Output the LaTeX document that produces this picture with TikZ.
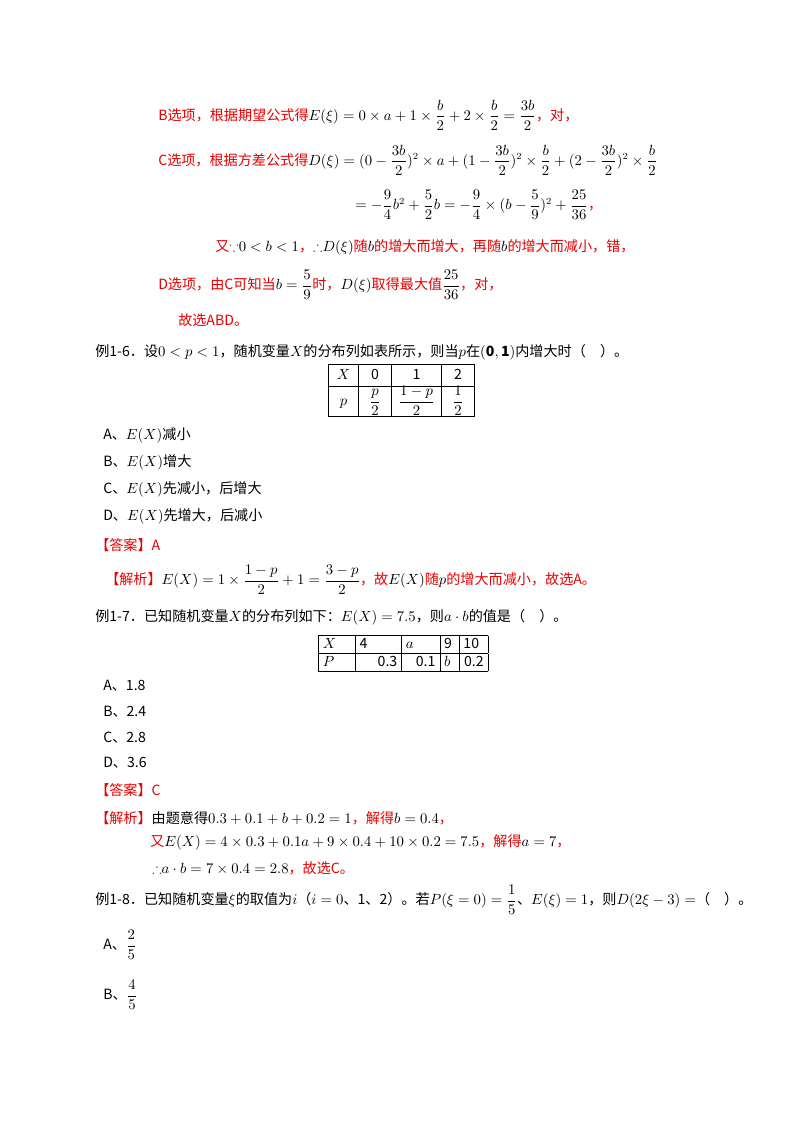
\documentclass[tikz,border=0pt]{standalone}
\usepackage{amsmath,amssymb,array}
\usepackage{fontspec}
\setmainfont{Noto Sans CJK SC}
\definecolor{rd}{RGB}{230,0,0}
\setlength\tabcolsep{3pt}
\begin{document}
\begin{tikzpicture}[x=0.744pt,y=-0.744pt,
  every node/.style={font=\fontsize{10.5}{13}\selectfont,anchor=west,inner sep=0pt},
  red/.style={text=rd}]
\useasboundingbox[fill=white] (0,0) rectangle (800,1132);
\node[red] (b) at (158,115) {B选项，根据期望公式得\textcolor{black}{$E(\xi)=0\times a+1\times\dfrac{b}{2}+2\times\dfrac{b}{2}=\dfrac{3b}{2}$}，对，};
\node[red] (c) at (158,160) {C选项，根据方差公式得\textcolor{black}{$D(\xi)=(0-\dfrac{3b}{2})^2\times a+(1-\dfrac{3b}{2})^2\times\dfrac{b}{2}+(2-\dfrac{3b}{2})^2\times\dfrac{b}{2}$}};
\node (c2) at (355,205) {$=-\dfrac{9}{4}b^2+\dfrac{5}{2}b=-\dfrac{9}{4}\times(b-\dfrac{5}{9})^2+\dfrac{25}{36}$\textcolor{rd}{，}};
\node[red] (y) at (215,247) {又$\because$\textcolor{black}{$0<b<1$}，$\therefore$\textcolor{black}{$D(\xi)$}随\textcolor{black}{$b$}的增大而增大，再随\textcolor{black}{$b$}的增大而减小，错，};
\node[red] (d) at (158,285) {D选项，由C可知当\textcolor{black}{$b=\dfrac{5}{9}$}时，\textcolor{black}{$D(\xi)$}取得最大值\textcolor{black}{$\dfrac{25}{36}$}，对，};
\node[red] (g) at (178,320) {故选ABD。};
\node (e6) at (95,352) {例1-6．设$0<p<1$，随机变量$X$的分布列如表所示，则当$p$在$\mathbf{(0,1)}$内增大时（\quad）。};
\node[anchor=north west,inner sep=0pt] (t1) at (328,364) {\renewcommand{\arraystretch}{1.2}\begin{tabular}{|>{\centering\arraybackslash}p{16pt}|>{\centering\arraybackslash}p{18pt}|>{\centering\arraybackslash}p{31pt}|>{\centering\arraybackslash}p{18pt}|}\hline
$X$ & 0 & 1 & 2\\\hline
$p$ & $\dfrac{p}{2}$ & $\dfrac{1-p}{2}$ & $\dfrac{1}{2}$\\\hline\end{tabular}};
\node (a6) at (103,435) {A、$E(X)$减小};
\node (b6) at (103,462) {B、$E(X)$增大};
\node (c6) at (103,489) {C、$E(X)$先减小，后增大};
\node (d6) at (103,516) {D、$E(X)$先增大，后减小};
\node[red] (an6) at (95,545) {【答案】A};
\node[red] (j6) at (105,580) {【解析】\textcolor{black}{$E(X)=1\times\dfrac{1-p}{2}+1=\dfrac{3-p}{2}$}，故\textcolor{black}{$E(X)$}随\textcolor{black}{$p$}的增大而减小，故选A。};
\node (e7) at (95,617) {例1-7．已知随机变量$X$的分布列如下：$E(X)=7.5$，则$a\cdot b$的值是（\quad）。};
\node[anchor=north west] (t2) at (318,635) {\begin{tabular}{|p{21pt}|p{28pt}|p{22pt}|p{8pt}|p{15pt}|}\hline
$X$ & 4 & $a$ & 9 & 10\\\hline
$P$ & \hfill 0.3 & \hfill 0.1 & $b$ & \hfill 0.2\\\hline\end{tabular}};
\node (a7) at (103,686) {A、1.8};
\node (b7) at (103,712) {B、2.4};
\node (c7) at (103,738) {C、2.8};
\node (d7) at (103,763) {D、3.6};
\node[red] (an7) at (95,790) {【答案】C};
\node[red] (j7) at (95,818) {【解析】\textcolor{black}{由题意得$0.3+0.1+b+0.2=1$}，解得\textcolor{black}{$b=0.4$}，};
\node[red] (j7b) at (150,842) {又\textcolor{black}{$E(X)=4\times0.3+0.1a+9\times0.4+10\times0.2=7.5$}，解得\textcolor{black}{$a=7$}，};
\node[red] (j7c) at (152,868) {$\therefore$\textcolor{black}{$a\cdot b=7\times0.4=2.8$}，故选C。};
\node (e8) at (95,900) {例1-8．已知随机变量$\xi$的取值为$i$（$i=0$、1、2）。若$P(\xi=0)=\dfrac{1}{5}$、$E(\xi)=1$，则$D(2\xi-3)=$（\quad）。};
\node (a8) at (103,945) {A、$\dfrac{2}{5}$};
\node (b8) at (103,995) {B、$\dfrac{4}{5}$};
\end{tikzpicture}
\end{document}
